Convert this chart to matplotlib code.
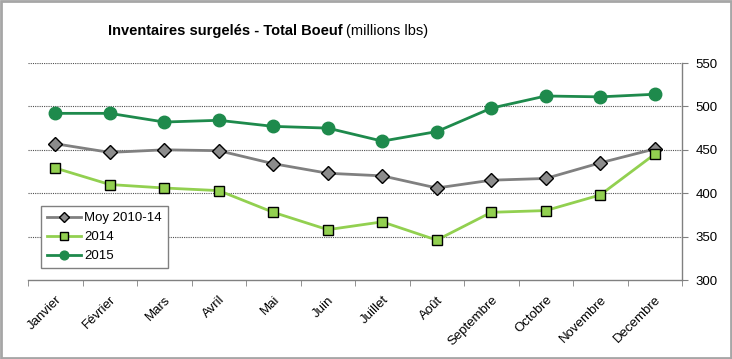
import numpy as np
import matplotlib
matplotlib.use("Agg")
import matplotlib.pyplot as plt
from matplotlib.patches import Rectangle

plt.rcParams['font.family'] = ['Liberation Sans', 'DejaVu Sans']

mois = ['Janvier', 'Février', 'Mars', 'Avril', 'Mai', 'Juin', 'Juillet',
        'Août', 'Septembre', 'Octobre', 'Novembre', 'Decembre']
moy = [457, 447, 450, 449, 434, 423, 420, 406, 415, 417, 435, 451]
v2014 = [429, 410, 406, 403, 378, 358, 367, 346, 378, 380, 398, 445]
v2015 = [492, 492, 482, 484, 477, 475, 460, 471, 498, 512, 511, 514]
yticks = [300, 350, 400, 450, 500, 550]

fig = plt.figure(figsize=(7.32, 3.59), dpi=100)
ax = fig.add_axes([0.0383, 0.22, 0.8934, 0.6045])

x = np.arange(len(mois))
ax.plot(x, moy, color='#808080', lw=2, marker='D', ms=7, mfc='#8c8c8c',
        mec='black', mew=1, label='Moy 2010-14', zorder=3)
ax.plot(x, v2014, color='#92D050', lw=2, marker='s', ms=7.5, mfc='#92D050',
        mec='black', mew=1, label='2014', zorder=4)
ax.plot(x, v2015, color='#1E8A4C', lw=2, marker='o', ms=9, mfc='#1E8A4C',
        mec='#1E8A4C', label='2015', zorder=5)

ax.set_xlim(-0.5, len(mois) - 0.5)
ax.set_ylim(300, 550)
ax.set_yticks(yticks)
ax.yaxis.tick_right()
ax.tick_params(axis='y', direction='out', length=4, color='#808080',
               labelsize=9.5, pad=6)
for y in yticks[1:]:
    ax.axhline(y, color='#505050', lw=0.8, ls=(0, (1, 1)), zorder=1)

ax.set_xticks(x)
ax.set_xticklabels(mois, rotation=45, ha='right', rotation_mode='anchor',
                   fontsize=9.5)
ax.set_xticks(np.arange(-0.5, len(mois)), minor=True)
ax.tick_params(axis='x', which='major', length=0, pad=10)
ax.tick_params(axis='x', which='minor', length=4, color='#808080')

for s in ['left', 'top']:
    ax.spines[s].set_visible(False)
for s in ['right', 'bottom']:
    ax.spines[s].set_color('#808080')
    ax.spines[s].set_linewidth(1)

leg = ax.legend(loc='upper left', bbox_to_anchor=(0.01, 0.37), fontsize=9.5,
                frameon=True, fancybox=False, edgecolor='#808080', framealpha=1,
                handlelength=2.6, handletextpad=0.2, borderpad=0.45,
                labelspacing=0.5, markerscale=0.7)
leg.get_frame().set_linewidth(1)
leg.set_zorder(10)

fig.text(0.468, 0.915, 'Inventaires surgelés - Total Boeuf', ha='right',
         va='center', fontsize=10.5, fontweight='bold')
fig.text(0.472, 0.915, '(millions lbs)', ha='left', va='center', fontsize=10.5)

fig.patches.append(Rectangle((0.001, 0.002), 0.997, 0.995, transform=fig.transFigure,
                             fill=False, edgecolor='#a6a6a6', lw=2))

fig.savefig('out.png', dpi=100)
